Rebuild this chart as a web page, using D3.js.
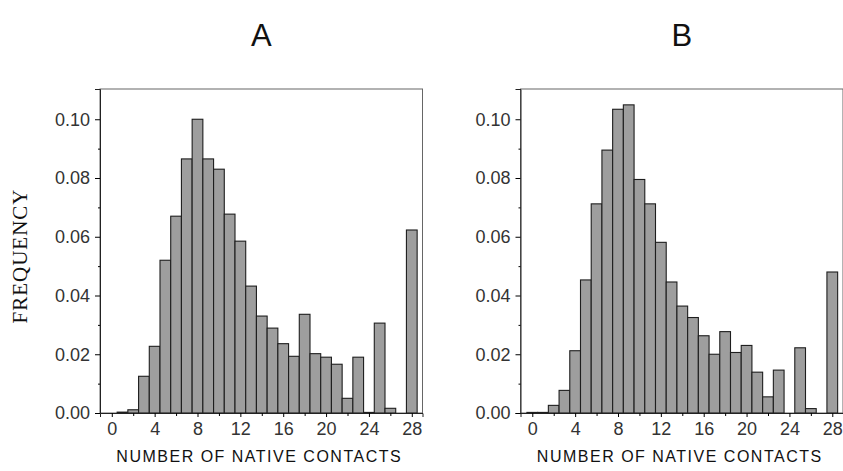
<!DOCTYPE html>
<html>
<head>
<meta charset="utf-8">
<script src="https://cdn.jsdelivr.net/npm/d3@7/dist/d3.min.js"></script>
<style>
  body { margin: 0; background: #fff; }
  svg { display: block; }
  .tick text { font-family: "Liberation Sans", Arial, sans-serif; font-size: 18px; fill: #333; }
</style>
</head>
<body>
<div id="chart"></div>
<script>
var svgWidth = 843;
var svgHeight = 471;

// number of native contacts (bins 0..28)
var contacts = d3.range(0, 29);

// frequencies
var freqA = [0, 0.0003, 0.0011, 0.0125, 0.0227, 0.052, 0.067, 0.0865, 0.100, 0.0865,
  0.083, 0.0677, 0.0585, 0.0432, 0.033, 0.0289, 0.0236, 0.0193, 0.0336, 0.0202,
  0.019, 0.0166, 0.005, 0.019, 0.0002, 0.0306, 0.0016, 0, 0.0623];

var freqB = [0.0002, 0.0002, 0.0026, 0.0077, 0.0212, 0.0453, 0.0712, 0.0895, 0.1034, 0.1049,
  0.0795, 0.0712, 0.0581, 0.0446, 0.0364, 0.0325, 0.0263, 0.020, 0.0277, 0.0206,
  0.023, 0.0139, 0.0055, 0.0146, 0, 0.0222, 0.0015, 0, 0.048];

var panelTitles = ["A", "B"];
var yTicks = [0, 0.02, 0.04, 0.06, 0.08, 0.10];
var yMinor = [0.01, 0.03, 0.05, 0.07, 0.09];
var xTicks = [0, 4, 8, 12, 16, 20, 24, 28];
var xMinor = [2, 6, 10, 14, 18, 22, 26];
var xTitle = "NUMBER OF NATIVE CONTACTS";
var yTitle = "FREQUENCY";

var plotTop = 89;
var plotHeight = 324;
var plotWidth = 322.5;
var panelLefts = [100, 520.5];

var svg = d3.select("#chart")
  .append("svg")
  .attr("width", svgWidth)
  .attr("height", svgHeight);

var y = d3.scaleLinear()
  .domain([0, 0.1103])
  .range([plotHeight, 0]);

function drawPanel(left, values, title) {
  var g = svg.append("g")
    .attr("transform", `translate(${left}, ${plotTop})`);

  var x = d3.scaleLinear()
    .domain([-1.1, 29])
    .range([0, plotWidth]);

  // frame
  g.append("rect")
    .attr("width", plotWidth)
    .attr("height", plotHeight)
    .attr("fill", "none")
    .attr("stroke", "#666")
    .attr("stroke-width", 1);

  // bars
  g.selectAll(".bar")
    .data(contacts)
    .enter()
    .append("rect")
    .attr("class", "bar")
    .attr("x", d => x(d - 0.5))
    .attr("width", x(1) - x(0))
    .attr("y", (d, i) => y(values[i]))
    .attr("height", (d, i) => y(0) - y(values[i]))
    .attr("fill", "#9e9e9e")
    .attr("stroke", "#1e1e1e")
    .attr("stroke-width", 1.1);

  // axes
  var xAxis = g.append("g")
    .attr("transform", `translate(0, ${plotHeight})`)
    .call(d3.axisBottom(x).tickValues(xTicks).tickSize(4).tickPadding(5).tickFormat(d3.format("d")));
  xAxis.select(".domain").attr("stroke", "#222");
  g.append("g")
    .attr("transform", `translate(0, ${plotHeight})`)
    .call(d3.axisBottom(x).tickValues(xMinor).tickSize(3).tickFormat(""))
    .select(".domain").remove();

  var yAxis = g.append("g")
    .call(d3.axisLeft(y).tickValues(yTicks).tickSize(5).tickPadding(5).tickFormat(d3.format(".2f")));
  yAxis.select(".domain").attr("stroke", "#222");
  g.append("g")
    .call(d3.axisLeft(y).tickValues(yMinor).tickSize(2).tickFormat(""))
    .select(".domain").remove();

  // panel title
  g.append("text")
    .attr("x", plotWidth / 2)
    .attr("y", -43)
    .attr("text-anchor", "middle")
    .style("font-family", "'Liberation Sans', Arial, sans-serif")
    .style("font-size", "31px")
    .attr("fill", "#111")
    .text(title);

  // x axis title
  g.append("text")
    .attr("x", plotWidth / 2 - 2)
    .attr("y", plotHeight + 49)
    .attr("text-anchor", "middle")
    .style("font-family", "'Liberation Sans', Arial, sans-serif")
    .style("font-size", "16px")
    .style("letter-spacing", "1.5px")
    .attr("fill", "#111")
    .text(xTitle);
}

drawPanel(panelLefts[0], freqA, panelTitles[0]);
drawPanel(panelLefts[1], freqB, panelTitles[1]);

// y axis title
svg.append("text")
  .attr("transform", `translate(27, ${plotTop + plotHeight / 2 + 5}) rotate(-90)`)
  .attr("text-anchor", "middle")
  .style("font-family", "'Liberation Serif', 'Times New Roman', serif")
  .style("font-size", "21px")
  .style("letter-spacing", "1px")
  .attr("fill", "#111")
  .text(yTitle);
</script>
</body>
</html>
